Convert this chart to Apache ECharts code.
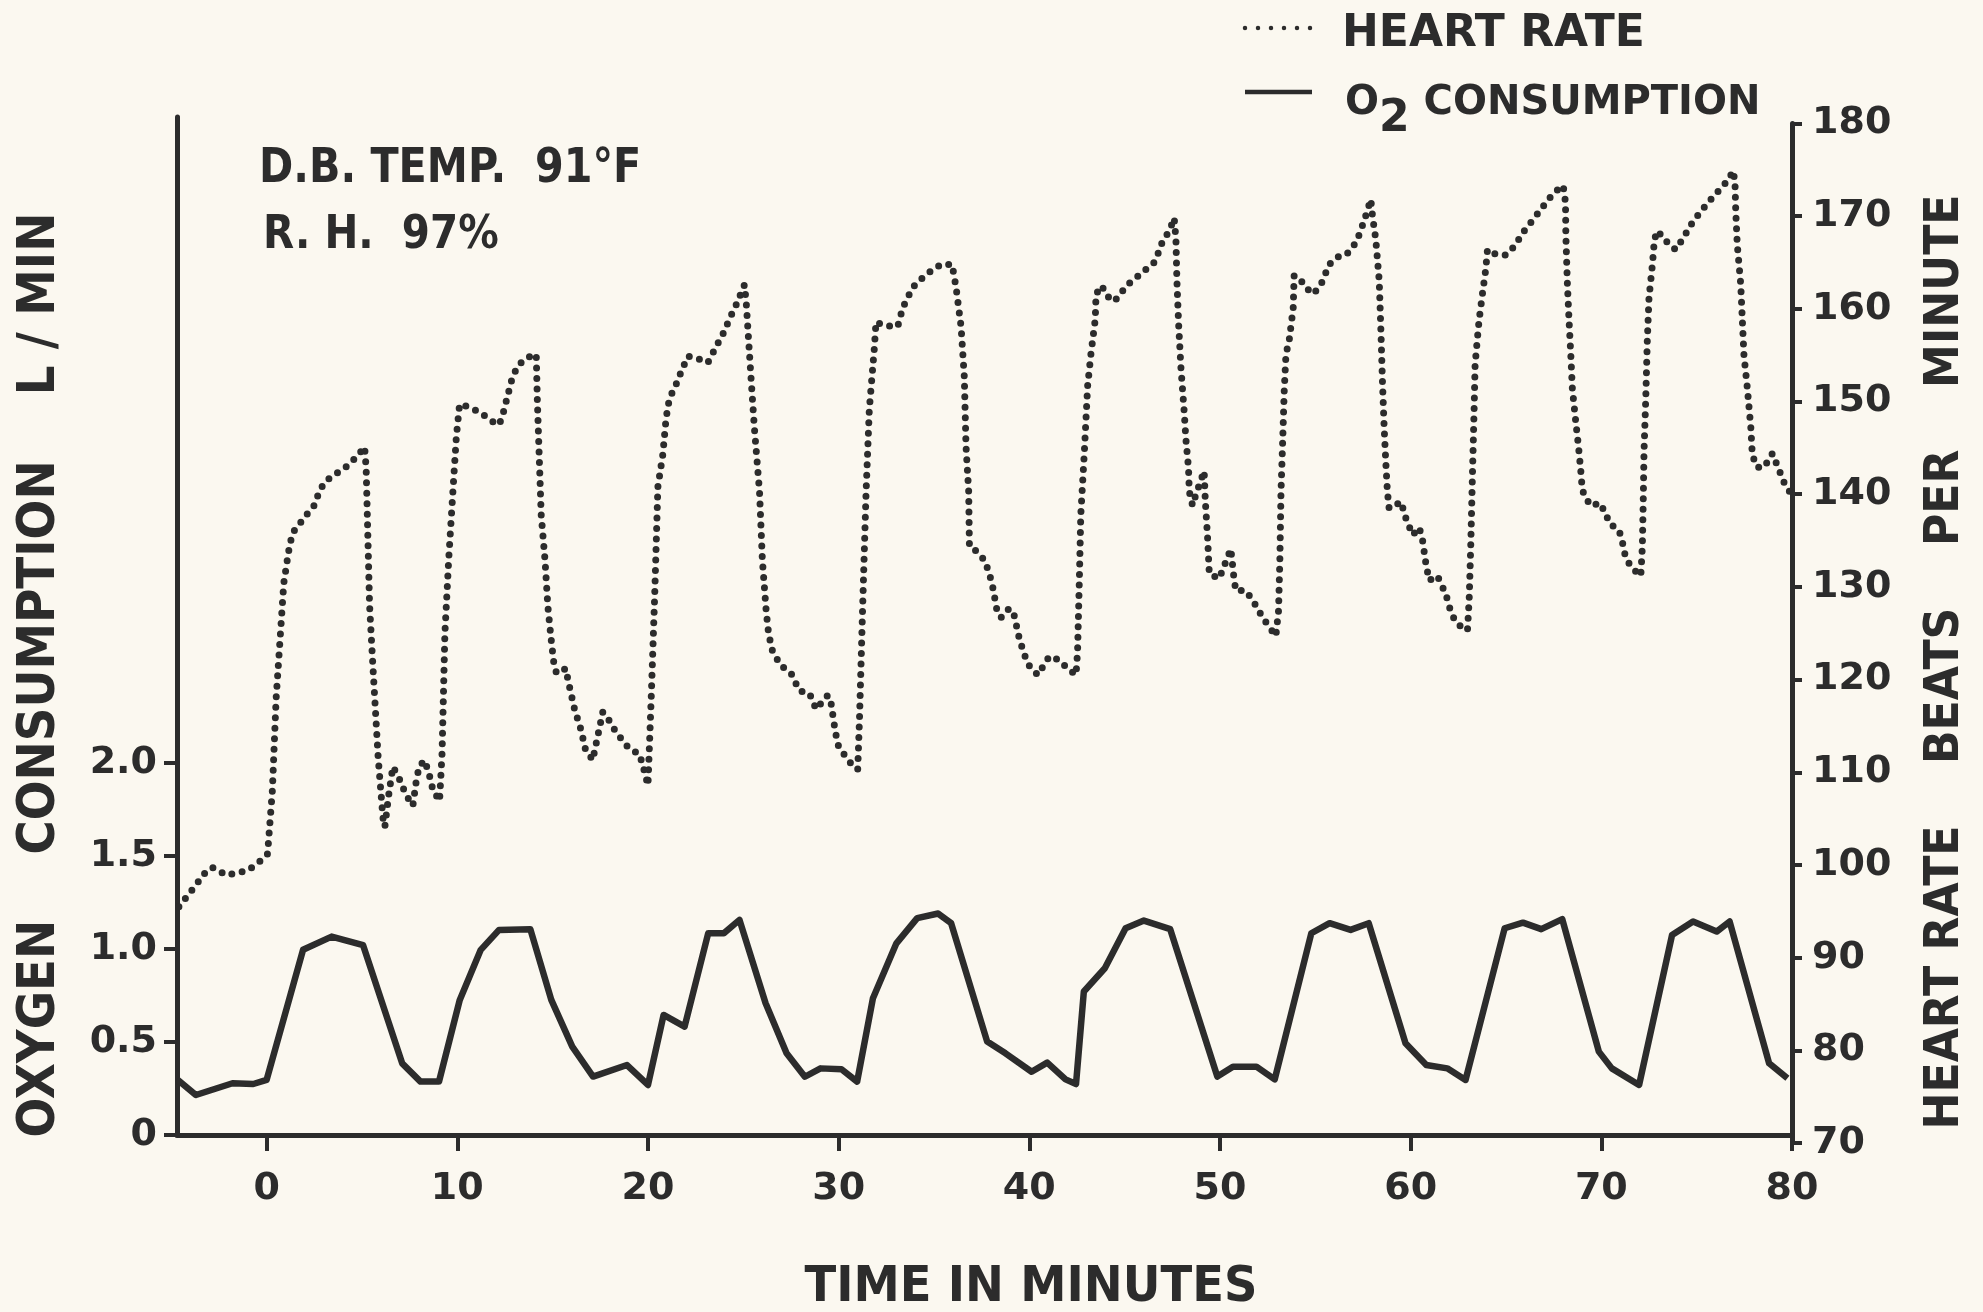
<!DOCTYPE html>
<html>
<head>
<meta charset="utf-8">
<title>Heart rate and oxygen consumption</title>
<script src="https://cdn.jsdelivr.net/npm/echarts@6/dist/echarts.min.js"></script>
<style>
  html, body { margin: 0; padding: 0; background: #fbf8f0; }
  #chart { width: 1983px; height: 1312px; }
</style>
</head>
<body>
<div id="chart"></div>
<script>
// ---- data -------------------------------------------------------------
const minuteTicks = [0, 10, 20, 30, 40, 50, 60, 70, 80];
const o2Ticks = [0, 0.5, 1.0, 1.5, 2.0];
const bpmTicks = [70, 80, 90, 100, 110, 120, 130, 140, 150, 160, 170, 180];

// heart rate (beats per minute) against time (minutes)
const hrMinutes = [
  -4.6, -3.8, -3.1, -2.8, -2.1, -1.0, -0.45, 0.05, 0.3, 0.5, 0.9, 1.15, 1.35, 2.1, 2.5, 2.8, 3.15, 3.7, 4.2, 4.7, 5.14,
  5.22, 5.4, 5.6, 5.85, 6.1, 6.2, 6.4, 6.62, 6.9, 7.3, 7.67, 7.85, 8.0, 8.28, 8.5, 8.72, 9.07,
  9.2, 9.35, 9.55, 9.8, 9.95, 10.12, 10.64, 11.3, 11.7, 12.2, 12.4, 12.65, 12.9, 13.2, 13.6, 14.14,
  14.2, 14.4, 14.6, 14.75, 14.92, 15.05, 15.2, 15.7, 15.8, 16.15, 16.5, 16.7, 17.1, 17.63, 17.9, 18.33, 19.03, 19.55, 19.75, 20.0,
  20.17, 20.35, 20.52, 20.78, 20.95, 21.13, 21.39, 21.74, 22.09, 22.53, 23.14, 23.57, 24.01, 24.27, 24.62, 25.06,
  25.15, 25.4, 25.58, 25.85, 26.0, 26.2, 26.33, 26.54, 26.98, 27.5, 27.94, 28.47, 28.82, 29.43, 29.6, 29.78, 29.95, 30.48, 31.0,
  31.09, 31.26, 31.44, 31.61, 31.87, 31.96, 32.4, 33.1, 33.36, 33.88, 34.58, 35.37, 35.95,
  36.16, 36.42, 36.59, 36.68, 36.82, 36.86, 37.2, 37.64, 37.9, 38.1, 38.3, 38.52, 38.95, 39.21, 39.48, 39.74, 40.0, 40.44, 41.05, 41.57, 42.0, 42.45,
  42.53, 42.62, 42.7, 42.88, 43.06, 43.23, 43.46, 43.5, 43.81, 44.02, 44.46, 45.15, 46.03, 46.6, 46.99, 47.34, 47.6,
  47.69, 47.74, 47.83, 47.95, 48.13, 48.21, 48.35, 48.39, 48.56, 48.74, 49.17, 49.23, 49.35, 49.44, 49.96, 50.57, 50.75, 50.84, 51.36, 51.7, 51.97, 52.23, 52.58, 52.93,
  53.07, 53.14, 53.2, 53.28, 53.37, 53.46, 53.63, 53.84, 53.89, 54.24, 54.5, 54.89, 55.29, 55.73, 56.16, 56.6, 56.95, 57.21, 57.56, 57.91,
  58.0, 58.17, 58.35, 58.44, 58.52, 58.61, 58.7, 58.78, 58.87, 59.13, 59.49, 59.75, 60.1, 60.45, 60.62, 60.71, 60.8, 60.97, 61.4, 61.67, 61.85, 62.02, 62.19, 62.45, 62.98,
  63.07, 63.15, 63.24, 63.33, 63.38, 63.5, 63.59, 63.77, 63.94, 64.03, 64.46, 64.99, 65.42, 65.95, 66.56, 67.26, 67.61, 68.0,
  68.12, 68.14, 68.22, 68.31, 68.4, 68.48, 68.66, 68.8, 68.92, 69.0, 69.18, 69.53, 69.88, 70.23, 70.4, 70.93, 71.1, 71.28, 71.63, 72.07,
  72.15, 72.2, 72.24, 72.33, 72.41, 72.5, 72.68, 72.77, 72.89, 73.2, 73.55, 73.9, 74.25, 74.77, 75.21, 75.74, 76.26, 76.61, 76.92,
  77.01, 77.05, 77.13, 77.31, 77.4, 77.48, 77.66, 77.84, 77.92, 78.18, 78.53, 78.97, 79.23, 79.58, 79.9
];
const hrBpm = [
  95.5, 97.6, 99.5, 99.7, 98.9, 99.4, 100.2, 101.2, 108, 118, 130.4, 133.8, 135.8, 137.8, 138.8, 140.5, 141.5, 142.3, 143, 144, 145.1,
  142.8, 128, 120.5, 111.6, 105.1, 104.1, 107.5, 110.6, 109.6, 107.6, 106.4, 109.1, 110.6, 111.3, 110, 108.1, 106.9,
  112, 125, 133, 141.3, 146.2, 149.7, 149.4, 148.7, 148, 147.5, 148.7, 150.7, 152.7, 153.9, 154.7, 155.1,
  150, 137.8, 132.9, 127.9, 124.4, 122, 120.7, 121.2, 120, 116.8, 114.5, 112.6, 111.3, 116.5, 115.8, 114.3, 112.5, 112, 110.6, 108.6,
  118, 128.9, 140.8, 144.3, 148.2, 150.4, 151.4, 153.2, 154.9, 154.7, 154.2, 155.9, 157.6, 158.9, 160.4, 162.6,
  160.8, 152.7, 147.2, 140.3, 132.9, 127.4, 124.9, 123, 121.5, 120.7, 118.8, 118.5, 116.8, 118.3, 117.5, 115, 113, 111.3, 110.3,
  115.5, 127.9, 140.3, 149.2, 155.7, 158.6, 158.2, 158.1, 160.1, 162.3, 163.7, 164.8, 164.8,
  162.3, 158.1, 152.7, 145.2, 140.3, 134.3, 133.9, 132.9, 131.5, 129.8, 127.5, 126.7, 127.7, 126.9, 124.4, 122.7, 121.5, 120.5, 122.5, 122.1, 121.2, 120.5,
  123, 130.4, 137.8, 144.3, 151.7, 155.1, 158.9, 161.6, 162.5, 161.5, 160.8, 162.6, 164.1, 165.1, 167.3, 168.4, 169.8,
  167.5, 163.1, 158.4, 153.7, 148.7, 146, 142.8, 140.3, 138.8, 140, 142.5, 139.3, 135.3, 131.4, 130.9, 134.1, 130.6, 129.6, 129.6, 128.6, 127.7, 126.7, 125.7, 124.7,
  127.4, 132.9, 140.3, 145.2, 151.2, 155.1, 156.6, 160.1, 163.6, 163.1, 162.3, 161.6, 162.6, 164.8, 165.6, 165.8, 166.6, 167.5, 169.5, 171.8,
  170, 167.5, 163.1, 157.6, 152.2, 147.2, 143.3, 140.3, 138.5, 138.7, 139.2, 137.4, 135.6, 136.4, 135.1, 133.8, 132.5, 130.7, 131.2, 130, 129.2, 127.9, 126.9, 126, 125.3,
  128.7, 134.3, 142.1, 149.3, 154, 156.8, 158.8, 161.7, 164.3, 166.4, 165.9, 165.8, 166.7, 168.4, 170, 171.9, 172.7, 173.3,
  171.5, 167.9, 162.7, 158.6, 155, 151.4, 147.8, 145.2, 142.6, 140.5, 139.5, 138.7, 139.1, 138, 136.9, 136.1, 134.9, 133.1, 132, 131.2,
  134.3, 139.5, 144.7, 150.3, 156.5, 161.2, 164.8, 167.1, 168.4, 167.9, 166.9, 166.4, 167.5, 169.3, 170.5, 171.8, 173, 173.8, 174.9,
  173.6, 170.5, 166.9, 162.7, 158.6, 155, 151.4, 147.2, 144.2, 142.9, 142.9, 144.4, 143.1, 141.3, 140.2
];

// oxygen consumption (litres per minute) against time (minutes)
const o2Minutes = [
  -4.7, -3.71, -1.79, -0.7, 0.0, 1.91, 3.41, 5.06, 7.11, 8.07, 9.04,
  10.13, 11.23, 12.19, 13.83, 14.93, 16.03, 17.12, 18.9, 20.0,
  20.82, 21.92, 23.16, 23.98, 24.8, 26.17, 27.27, 28.23, 29.05, 30.15, 30.97,
  31.8, 33.03, 34.12, 35.22, 35.9, 37.79, 38.75, 40.12, 40.94, 41.9, 42.45,
  42.86, 43.96, 45.05, 46.01, 47.39, 49.86, 50.68, 51.91, 52.87,
  54.79, 55.75, 56.85, 57.8, 59.73, 60.82, 61.92, 62.88,
  64.93, 65.89, 66.85, 67.95, 69.87, 70.55, 71.98,
  73.71, 74.81, 76.05, 76.73, 78.8, 79.76
];
const o2Litres = [
  0.30, 0.215, 0.278, 0.274, 0.296, 0.995, 1.066, 1.02, 0.385, 0.287, 0.287,
  0.726, 0.995, 1.102, 1.106, 0.726, 0.475, 0.314, 0.376, 0.269,
  0.645, 0.582, 1.084, 1.084, 1.156, 0.708, 0.439, 0.313, 0.358, 0.353, 0.287,
  0.735, 1.03, 1.165, 1.19, 1.138, 0.502, 0.439, 0.34, 0.389, 0.299, 0.274,
  0.771, 0.896, 1.111, 1.152, 1.106, 0.314, 0.367, 0.367, 0.299,
  1.084, 1.138, 1.102, 1.138, 0.493, 0.376, 0.358, 0.296,
  1.111, 1.141, 1.106, 1.16, 0.448, 0.358, 0.269,
  1.075, 1.147, 1.093, 1.147, 0.385, 0.305
];

// ---- styling ------------------------------------------------------------
const INK = '#2c2c2c';
const FONT = "'DejaVu Sans', 'Liberation Sans', sans-serif";

const hrData = hrMinutes.map((t, i) => [t, hrBpm[i]]);
const o2Data = o2Minutes.map((t, i) => [t, o2Litres[i]]);

const tickLabel = { color: INK, fontFamily: FONT, fontWeight: 'bold', fontSize: 38 };

const chart = echarts.init(document.getElementById('chart'), null, { renderer: 'canvas' });

chart.setOption({
  animation: false,
  backgroundColor: '#fbf8f0',
  grid: [
    // oxygen consumption panel (left axis)
    { left: 177, right: 191, top: 117, bottom: 177, containLabel: false, outerBoundsMode: 'none' },
    // heart rate panel (right axis)
    { left: 177, right: 191, top: 123.5, bottom: 169, containLabel: false, outerBoundsMode: 'none' }
  ],
  xAxis: [
    {
      type: 'value', gridIndex: 0, min: -4.7, max: 80,
      axisLine: { show: true, onZero: false, lineStyle: { color: INK, width: 5 } },
      axisTick: { show: true, customValues: minuteTicks, length: 16, inside: false, lineStyle: { color: INK, width: 4 } },
      axisLabel: Object.assign({ customValues: minuteTicks, margin: 35 }, tickLabel),
      splitLine: { show: false }
    },
    {
      type: 'value', gridIndex: 1, min: -4.7, max: 80, show: false,
      splitLine: { show: false }
    }
  ],
  yAxis: [
    {
      type: 'value', gridIndex: 0, position: 'left', min: 0, max: 5.47,
      axisLine: { show: true, onZero: false, lineStyle: { color: INK, width: 5 } },
      axisTick: { show: true, customValues: o2Ticks, length: 13, inside: false, lineStyle: { color: INK, width: 4 } },
      axisLabel: Object.assign({
        customValues: o2Ticks, margin: 20,
        formatter: v => (v === 0 ? '0' : v.toFixed(1))
      }, tickLabel),
      splitLine: { show: false }
    },
    {
      type: 'value', gridIndex: 1, position: 'right', min: 70, max: 180, interval: 10,
      axisLine: { show: true, onZero: false, lineStyle: { color: INK, width: 5 } },
      axisTick: { show: true, length: 10, inside: false, lineStyle: { color: INK, width: 4 } },
      axisLabel: Object.assign({ margin: 20 }, tickLabel),
      splitLine: { show: false }
    }
  ],
  series: [
    {
      name: 'HEART RATE', type: 'line', xAxisIndex: 1, yAxisIndex: 1,
      data: hrData, symbol: 'none', showSymbol: false, silent: true,
      lineStyle: { color: INK, width: 7, type: [0, 10.5], cap: 'round', join: 'round' }
    },
    {
      name: 'O2 CONSUMPTION', type: 'line', xAxisIndex: 0, yAxisIndex: 0,
      data: o2Data, symbol: 'none', showSymbol: false, silent: true,
      lineStyle: { color: INK, width: 6.5, join: 'round' }
    }
  ],
  graphic: [
    // key
    {
      type: 'line', silent: true,
      shape: { x1: 1245, y1: 28, x2: 1312, y2: 28 },
      style: { stroke: INK, lineWidth: 4.5, lineDash: [0, 13], lineCap: 'round' }
    },
    {
      type: 'text', silent: true, x: 1342, y: 35,
      style: { text: 'HEART RATE', fill: INK, font: "bold 44px 'DejaVu Sans'", align: 'left', verticalAlign: 'middle' }
    },
    {
      type: 'line', silent: true,
      shape: { x1: 1245, y1: 92, x2: 1312, y2: 92 },
      style: { stroke: INK, lineWidth: 4.5 }
    },
    {
      type: 'text', silent: true, x: 1345, y: 107,
      style: {
        text: '{o|O}{s|2}{o| CONSUMPTION}',
        fill: INK, align: 'left', verticalAlign: 'middle',
        rich: {
          o: { fontFamily: FONT, fontWeight: 'bold', fontSize: 40, fill: INK, lineHeight: 46, verticalAlign: 'top', padding: [0, 0, 14, 0] },
          s: { fontFamily: FONT, fontWeight: 'bold', fontSize: 44, fill: INK, lineHeight: 46, verticalAlign: 'top', padding: [14, 0, 0, 0] }
        }
      }
    },
    // test conditions
    {
      type: 'text', silent: true, x: 259, y: 170, scaleX: 0.86,
      style: { text: 'D.B. TEMP.  91\u00B0F', fill: INK, font: "bold 48px 'DejaVu Sans'", align: 'left', verticalAlign: 'middle' }
    },
    {
      type: 'text', silent: true, x: 263, y: 236, scaleX: 0.88,
      style: { text: 'R. H.  97%', fill: INK, font: "bold 46px 'DejaVu Sans'", align: 'left', verticalAlign: 'middle' }
    },
    // axis titles
    {
      type: 'text', silent: true, x: 1031, y: 1288, scaleX: 0.93,
      style: { text: 'TIME IN MINUTES', fill: INK, font: "bold 50px 'DejaVu Sans'", align: 'center', verticalAlign: 'middle' }
    },
    {
      type: 'text', silent: true, x: 40, y: 675, rotation: Math.PI / 2, scaleX: 0.9,
      style: { text: 'OXYGEN    CONSUMPTION    L / MIN', fill: INK, font: "bold 52px 'DejaVu Sans'", align: 'center', verticalAlign: 'middle' }
    },
    {
      type: 'text', silent: true, x: 1946, y: 662, rotation: Math.PI / 2, scaleX: 0.92,
      style: { text: 'HEART RATE    BEATS    PER    MINUTE', fill: INK, font: "bold 48px 'DejaVu Sans'", align: 'center', verticalAlign: 'middle' }
    }
  ]
});
</script>
</body>
</html>
